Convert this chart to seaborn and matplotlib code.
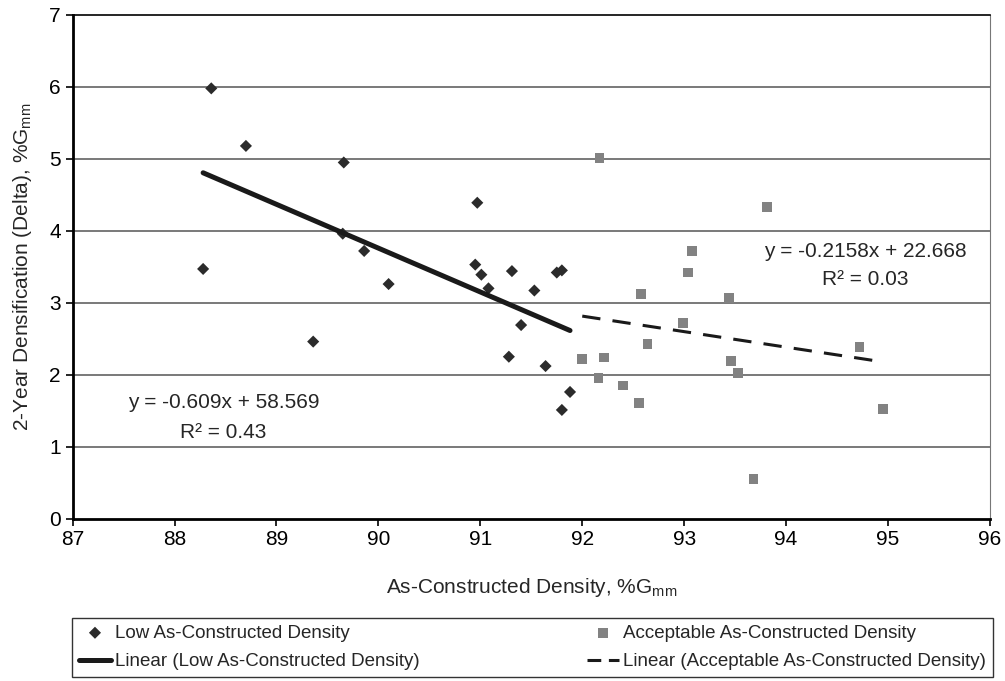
import numpy as np
import pandas as pd
import matplotlib
matplotlib.use("Agg")
import matplotlib.pyplot as plt
from matplotlib.lines import Line2D
import seaborn as sns

# Points
low_x = [88.36, 88.70, 89.66, 89.65, 89.86, 88.28, 90.10, 89.36, 90.97, 90.95, 91.01,
         91.08, 91.31, 91.53, 91.75, 91.80, 91.40, 91.28, 91.64, 91.88, 91.80]
low_y = [5.98, 5.18, 4.95, 3.96, 3.72, 3.47, 3.26, 2.46, 4.39, 3.53, 3.39,
         3.20, 3.44, 3.17, 3.42, 3.45, 2.69, 2.25, 2.12, 1.76, 1.51]
acc_x = [92.17, 92.00, 92.21, 92.16, 92.40, 92.56, 92.58, 92.64, 93.08, 93.04,
         92.99, 93.81, 93.44, 93.46, 93.53, 94.72, 94.95, 93.68]
acc_y = [5.01, 2.22, 2.24, 1.95, 1.85, 1.61, 3.12, 2.43, 3.72, 3.42,
         2.72, 4.33, 3.07, 2.19, 2.02, 2.39, 1.52, 0.55]

# trend line coefficients (as printed on the chart)
low_fit = (-0.609, 58.569, 0.43)
acc_fit = (-0.2158, 22.668, 0.03)

x_ticks = [87, 88, 89, 90, 91, 92, 93, 94, 95, 96]
y_ticks = [0, 1, 2, 3, 4, 5, 6, 7]

sns.set_style("white")
plt.rcParams["font.family"] = ["Liberation Sans", "DejaVu Sans"]
plt.rcParams["mathtext.default"] = "regular"

low_df = pd.DataFrame({"x": low_x, "y": low_y})
acc_df = pd.DataFrame({"x": acc_x, "y": acc_y})

fig = plt.figure(figsize=(10.05, 6.81), dpi=100)
ax = fig.add_axes([0.0723, 0.2385, 0.9127, 0.7395])

for yv in y_ticks[1:-1]:
    ax.axhline(yv, color="#555555", lw=1.1, zorder=0)

sns.scatterplot(data=low_df, x="x", y="y", ax=ax, marker="D", s=38,
                color="#2b2b2b", edgecolor="none", label="Low As-Constructed Density",
                zorder=3)
sns.scatterplot(data=acc_df, x="x", y="y", ax=ax, marker="s", s=50,
                color="#828282", edgecolor="none",
                label="Acceptable As-Constructed Density", zorder=3)

lx = np.array([min(low_x), max(low_x)])
axx = np.array([min(acc_x), max(acc_x)])
sns.lineplot(x=lx, y=low_fit[0] * lx + low_fit[1], ax=ax, color="#1a1a1a",
             lw=3.6, zorder=4)
sns.lineplot(x=axx, y=acc_fit[0] * axx + acc_fit[1], ax=ax, color="#1a1a1a",
             lw=2.2, linestyle=(0, (6, 4)), zorder=4)

ax.set_xlim(87, 96)
ax.set_ylim(0, 7)
ax.set_xticks(x_ticks)
ax.set_yticks(y_ticks)
ax.tick_params(axis="both", labelsize=15, length=5, width=1.2, direction="out",
               bottom=True, left=True, colors="black")
ax.set_xlabel("As-Constructed Density, %G$_{mm}$", fontsize=15, labelpad=19)
ax.set_ylabel("2-Year Densification (Delta), %G$_{mm}$", fontsize=15, labelpad=11)

for side in ["left", "bottom"]:
    ax.spines[side].set_linewidth(2.0)
    ax.spines[side].set_color("black")
ax.spines["top"].set_linewidth(1.2)
ax.spines["top"].set_color("black")
ax.spines["right"].set_linewidth(0.8)
ax.spines["right"].set_color("#777777")

ax.text(88.48, 1.62, f"y = {low_fit[0]}x + {low_fit[1]}", fontsize=15, ha="center", va="center")
ax.text(88.48, 1.19, f"R² = {low_fit[2]:.2f}", fontsize=15, ha="center", va="center")
ax.text(94.78, 3.71, f"y = {acc_fit[0]}x + {acc_fit[1]}", fontsize=15, ha="center", va="center")
ax.text(94.78, 3.32, f"R² = {acc_fit[2]:.2f}", fontsize=15, ha="center", va="center")

handles, labels = ax.get_legend_handles_labels()
if ax.get_legend() is not None:
    ax.get_legend().remove()
low_line = Line2D([], [], color="#1a1a1a", lw=3.6)
acc_line = Line2D([], [], color="#1a1a1a", lw=2.2, linestyle=(0, (4.5, 2.5)))
leg = fig.legend([handles[0], low_line, handles[1], acc_line],
                 [labels[0], "Linear (Low As-Constructed Density)",
                  labels[1], "Linear (Acceptable As-Constructed Density)"],
                 loc="upper left", bbox_to_anchor=(72 / 1005, 1 - 618 / 681),
                 ncol=2, fontsize=13.5, frameon=True, fancybox=False,
                 edgecolor="black", handlelength=1.75, handletextpad=0.2,
                 columnspacing=8.9, borderpad=0.35, labelspacing=0.6,
                 borderaxespad=0, scatterpoints=1)
leg.get_frame().set_linewidth(1.0)

fig.savefig("out.png", dpi=100)
